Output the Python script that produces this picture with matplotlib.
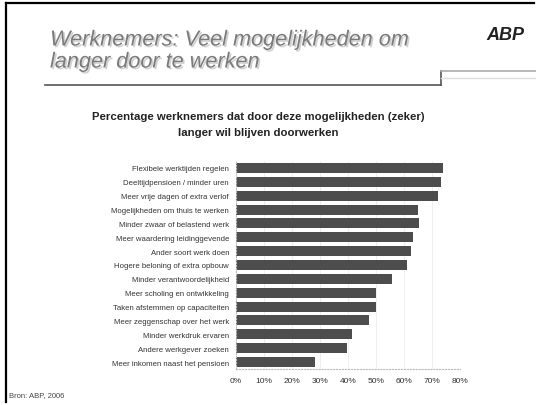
import matplotlib.pyplot as plt
import matplotlib.patheffects as pe
from matplotlib.lines import Line2D
from matplotlib.ticker import PercentFormatter

plt.rcParams['font.family'] = ['Liberation Sans', 'DejaVu Sans']

# mogelijkheden, van hoog naar laag
labels = [
    'Flexibele werktijden regelen',
    'Deeltijdpensioen / minder uren',
    'Meer vrije dagen of extra verlof',
    'Mogelijkheden om thuis te werken',
    'Minder zwaar of belastend werk',
    'Meer waardering leidinggevende',
    'Ander soort werk doen',
    'Hogere beloning of extra opbouw',
    'Minder verantwoordelijkheid',
    'Meer scholing en ontwikkeling',
    'Taken afstemmen op capaciteiten',
    'Meer zeggenschap over het werk',
    'Minder werkdruk ervaren',
    'Andere werkgever zoeken',
    'Meer inkomen naast het pensioen',
]
values = [73.8, 73.1, 72.1, 65.0, 65.4, 63.2, 62.5, 61.0, 55.7, 50.0, 50.0, 47.5, 41.4, 39.6, 28.2]
xticks = [0, 10, 20, 30, 40, 50, 60, 70, 80]

fig = plt.figure(figsize=(5.36, 4.06), dpi=100)

# kader van de dia
fig.add_artist(Line2D([6/536, 534/536], [1 - 4/406, 1 - 4/406], color='black', lw=1.6))
fig.add_artist(Line2D([6/536, 6/536], [1 - 4/406, 1 - 403/406], color='black', lw=1.6))

# lijnen onder de titel
fig.add_artist(Line2D([45/536, 441/536], [1 - 86/406, 1 - 86/406], color='#555555', lw=1.2))
fig.add_artist(Line2D([441/536, 441/536], [1 - 86/406, 1 - 72/406], color='#555555', lw=1.2))
fig.add_artist(Line2D([441/536, 1], [1 - 72/406, 1 - 72/406], color='#aaaaaa', lw=1.2))
fig.add_artist(Line2D([441/536, 1], [1 - 79/406, 1 - 79/406], color='#dddddd', lw=1.0))

shadow = [pe.withSimplePatchShadow(offset=(1.2, -1.2), shadow_rgbFace='#d0d0d0', alpha=1.0)]
fig.text(50/536, 1 - 41/406, 'Werknemers: Veel mogelijkheden om', fontsize=15.6, style='italic',
         color='#7a7a7a', va='center', ha='left', path_effects=shadow)
fig.text(50/536, 1 - 63/406, 'langer door te werken', fontsize=15.6, style='italic',
         color='#7a7a7a', va='center', ha='left', path_effects=shadow)
fig.text(505/536, 1 - 35/406, 'ABP', fontsize=13, style='italic', weight='bold',
         color='#222222', va='center', ha='center')

fig.text(258/536, 1 - 117/406, 'Percentage werknemers dat door deze mogelijkheden (zeker)',
         fontsize=8.2, weight='bold', ha='center', va='center', color='#222222')
fig.text(258/536, 1 - 133/406, 'langer wil blijven doorwerken',
         fontsize=8.2, weight='bold', ha='center', va='center', color='#222222')

fig.text(9/536, 1 - 396/406, 'Bron: ABP, 2006', fontsize=5.5, ha='left', va='center', color='#444444')

ax = fig.add_axes([236/536, 1 - 370/406, 224/536, 208/406])
pos = list(range(len(labels)))
ax.barh(pos, values, height=0.72, color='#4d4d4d')
ax.set_yticks(pos)
ax.set_yticklabels(labels, fontsize=5.6)
ax.set_ylim(len(labels) - 0.5, -0.5)
ax.set_xlim(0, 80)
ax.set_xticks(xticks)
ax.xaxis.set_major_formatter(PercentFormatter(decimals=0))
ax.tick_params(axis='x', labelsize=6, length=0, pad=6, colors='#333333')
ax.tick_params(axis='y', length=0, pad=5, colors='#333333')
ax.grid(axis='x', color='#ececec', lw=0.6)
ax.set_axisbelow(True)
for side in ['top', 'right']:
    ax.spines[side].set_visible(False)
ax.spines['left'].set_color('#bbbbbb')
ax.spines['left'].set_linestyle(':')
ax.spines['bottom'].set_color('#bbbbbb')
ax.spines['bottom'].set_linestyle(':')

fig.savefig('out.png', dpi=100)
